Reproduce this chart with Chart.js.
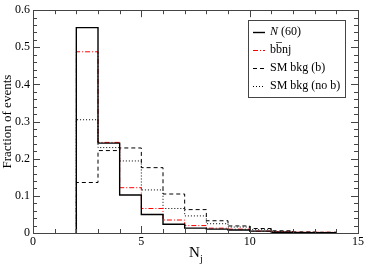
<!DOCTYPE html>
<html>
<head>
<meta charset="utf-8">
<script src="https://cdn.jsdelivr.net/npm/chart.js@4"></script>
<style>
html,body{margin:0;padding:0;background:#fff;}
#wrap{width:366px;height:267px;}
</style>
</head>
<body>
<div id="wrap"><canvas id="c" width="366" height="267"></canvas></div>
<script>
// lower bin edges (N_j)
const binEdges = [2, 3, 4, 5, 6, 7, 8, 9, 10, 11, 12, 13];
const lastEdge = 14;
const nHeavy = [0.553, 0.242, 0.1025, 0.050, 0.0236, 0.013, 0.0105, 0.008, 0.005, 0.002, 0.001, 0.0005];
const bbnj   = [0.488, 0.244, 0.122, 0.066, 0.035, 0.020, 0.013, 0.0105, 0.005, 0.003, 0.002, 0.002];
const smB    = [0.136, 0.222, 0.229, 0.176, 0.105, 0.063, 0.033, 0.019, 0.012, 0.006, 0.003, 0.002];
const smNoB  = [0.305, 0.230, 0.194, 0.116, 0.066, 0.046, 0.025, 0.016, 0.009, 0.004, 0.002, 0.001];
const seriesLabels = ['N (60)', 'bb\u0305nj', 'SM bkg (b)', 'SM bkg (no b)'];
const xTicks = [0, 5, 10, 15];
const yTicks = [0, 0.1, 0.2, 0.3, 0.4, 0.5, 0.6];

function steps(vals) {
  const pts = [{x: binEdges[0], y: 0}];
  binEdges.forEach((b, i) => pts.push({x: b, y: vals[i]}));
  pts.push({x: lastEdge, y: 0});
  return pts;
}

const FONT = '"Liberation Serif", "Times New Roman", serif';

const styles = [
  {color: '#000000', dash: [], width: 1.4},
  {color: '#ff0000', dash: [5, 2, 1, 2], width: 1},
  {color: '#000000', dash: [4, 3], width: 1},
  {color: '#000000', dash: [1, 2], width: 1}
];
const seriesData = [nHeavy, bbnj, smB, smNoB];

const datasets = seriesData.map((v, i) => ({
  label: seriesLabels[i],
  data: steps(v),
  stepped: 'before',
  borderColor: styles[i].color,
  borderDash: styles[i].dash,
  borderWidth: styles[i].width,
  pointRadius: 0,
  fill: false
}));

const framePlugin = {
  id: 'frame',
  afterDatasetsDraw(chart) {
    const {ctx, chartArea: a, scales: {x, y}} = chart;
    ctx.save();
    ctx.strokeStyle = '#444';
    ctx.lineWidth = 1;
    ctx.setLineDash([]);
    ctx.strokeRect(Math.round(a.left) + 0.5, Math.round(a.top) + 0.5, Math.round(a.right - a.left), Math.round(a.bottom - a.top));
    ctx.beginPath();
    for (let v = 0; v <= 15; v++) {
      const px = Math.round(x.getPixelForValue(v)) + 0.5;
      const L = v % 5 === 0 ? 7 : 4;
      ctx.moveTo(px, a.bottom); ctx.lineTo(px, a.bottom - L);
      ctx.moveTo(px, a.top); ctx.lineTo(px, a.top + L);
    }
    for (let k = 0; k <= 30; k++) {
      const v = k * 0.02;
      const py = Math.round(y.getPixelForValue(v)) + 0.5;
      const L = k % 5 === 0 ? 7 : 4;
      ctx.moveTo(a.left, py); ctx.lineTo(a.left + L, py);
      ctx.moveTo(a.right, py); ctx.lineTo(a.right - L, py);
    }
    ctx.stroke();

    // x title N_j
    ctx.fillStyle = '#000';
    ctx.textBaseline = 'alphabetic';
    ctx.textAlign = 'left';
    ctx.font = '15px ' + FONT;
    ctx.fillText('N', 189, 257);
    ctx.font = '10px ' + FONT;
    ctx.fillText('j', 200, 262);

    // legend box
    const bx = 248, by = 20, bw = 97, bh = 77;
    ctx.fillStyle = '#fff';
    ctx.fillRect(bx, by, bw, bh);
    ctx.strokeStyle = '#444';
    ctx.strokeRect(bx + 0.5, by + 0.5, bw, bh);
    const rows = [32, 50, 68, 86];
    chart.data.datasets.forEach((ds, i) => {
      const ry = rows[i];
      ctx.beginPath();
      ctx.strokeStyle = ds.borderColor;
      ctx.lineWidth = ds.borderWidth;
      ctx.setLineDash(ds.borderDash);
      ctx.moveTo(253, ry + 0.5); ctx.lineTo(265, ry + 0.5);
      ctx.stroke();
      ctx.setLineDash([]);
      ctx.fillStyle = '#000';
      ctx.textBaseline = 'middle';
      if (i === 0) {
        ctx.font = 'italic 12px ' + FONT;
        ctx.fillText('N', 270, ry);
        const w = ctx.measureText('N').width;
        ctx.font = '12px ' + FONT;
        ctx.fillText(' (60)', 270 + w, ry);
      } else {
        ctx.font = '12px ' + FONT;
        ctx.fillText(ds.label, 270, ry);
      }
    });
    ctx.restore();
  }
};

new Chart(document.getElementById('c'), {
  type: 'line',
  data: {datasets},
  plugins: [framePlugin],
  options: {
    responsive: false,
    animation: false,
    devicePixelRatio: 1,
    layout: {padding: {top: 5, right: 8, left: 0, bottom: 0}},
    plugins: {legend: {display: false}, tooltip: {enabled: false}},
    scales: {
      x: {
        type: 'linear', min: 0, max: 15,
        afterBuildTicks: s => { s.ticks = xTicks.map(v => ({value: v})); },
        grid: {display: false, drawTicks: false},
        border: {display: false},
        ticks: {color: '#000', padding: 2, maxRotation: 0, font: {family: FONT, size: 12}},
        afterFit: s => { s.height = 34; }
      },
      y: {
        type: 'linear', min: 0, max: 0.6,
        afterBuildTicks: s => { s.ticks = yTicks.map(v => ({value: v})); },
        grid: {display: false, drawTicks: false},
        border: {display: false},
        ticks: {color: '#000', padding: 3, font: {family: FONT, size: 12}},
        title: {display: true, text: 'Fraction of events', color: '#000', padding: 0, font: {family: FONT, size: 13}},
        afterFit: s => { s.width = 33; }
      }
    }
  }
});
</script>
</body>
</html>
